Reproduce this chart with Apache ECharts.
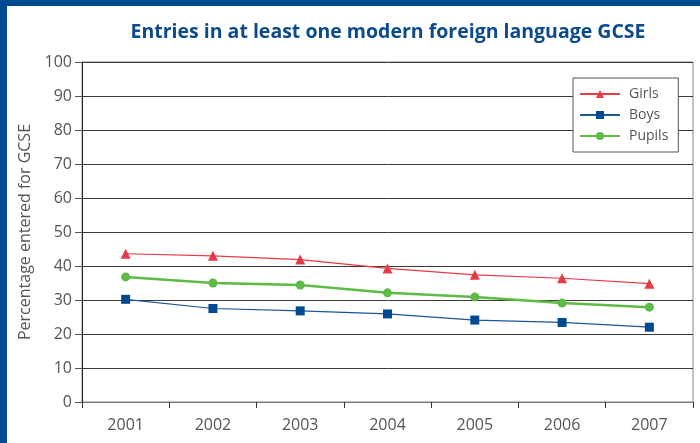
<!DOCTYPE html>
<html>
<head>
<meta charset="utf-8">
<script src="https://cdn.jsdelivr.net/npm/echarts@6/dist/echarts.min.js"></script>
<style>
html,body{margin:0;padding:0;background:#fff;}
#frame{position:absolute;left:0;top:0;width:700px;height:443px;box-sizing:border-box;border-top:6px solid #004a91;border-left:7px solid #004a91;}
#chart{position:absolute;left:0;top:0;width:700px;height:443px;}
</style>
</head>
<body>
<div id="frame"></div>
<div id="chart"></div>
<script>
var years = ['2001','2002','2003','2004','2005','2006','2007'];
var girls = [43.6, 43.0, 41.9, 39.3, 37.4, 36.4, 34.8];
var boys = [30.2, 27.5, 26.8, 25.9, 24.1, 23.4, 22.0];
var pupils = [36.8, 35.0, 34.4, 32.1, 30.9, 29.1, 27.9];
var yTicks = [0,10,20,30,40,50,60,70,80,90,100];

var chart = echarts.init(document.getElementById('chart'), null, {renderer:'canvas'});
var font = '"Open Sans", "Noto Sans", sans-serif';
chart.setOption({
  animation:false,
  backgroundColor:'transparent',
  title:{
    text:'Entries in at least one modern foreign language GCSE',
    left:383, top:17, textAlign:'center',
    textStyle:{color:'#0b4a8c', fontSize:19.5, fontWeight:'bold', fontFamily:'"Open Sans", sans-serif', letterSpacing:-0.5}
  },
  legend:{
    orient:'vertical', left:573, top:78,
    padding:[9,10,9,6], itemGap:7,
    itemWidth:40, itemHeight:10,
    borderColor:'#555', borderWidth:1, backgroundColor:'#fff',
    textStyle:{color:'#555', fontSize:14, fontFamily:font, padding:[0,0,0,4]},
    data:['Girls','Boys','Pupils']
  },
  grid:{left:82, right:7, top:62, bottom:41, show:true, borderColor:'#888', borderWidth:1, backgroundColor:'transparent'},
  xAxis:{
    type:'category', data:years, boundaryGap:true,
    axisLine:{lineStyle:{color:'#777', width:1}},
    axisTick:{show:true, length:6, lineStyle:{color:'#333'}},
    axisLabel:{color:'#555', fontSize:16, fontFamily:font, margin:15}
  },
  yAxis:{
    type:'value', min:0, max:100, interval:10,
    name:'Percentage entered for GCSE', nameLocation:'middle', nameGap:39,
    nameTextStyle:{color:'#555', fontSize:16, fontFamily:font},
    axisLine:{show:true, lineStyle:{color:'#222', width:1}},
    axisTick:{show:true, length:7, lineStyle:{color:'#555'}},
    axisLabel:{color:'#555', fontSize:16, fontFamily:font, margin:10,
      formatter:function(v){return yTicks.indexOf(v)>=0 ? String(v) : '';}},
    splitLine:{show:true, lineStyle:{color:'#3a3a3a', width:1}}
  },
  series:[
    {name:'Girls', type:'line', data:girls, symbol:'triangle', symbolSize:10,
      itemStyle:{color:'#e63a44'}, lineStyle:{color:'#e63a44', width:1.2}, z:3},
    {name:'Boys', type:'line', data:boys, symbol:'rect', symbolSize:9,
      itemStyle:{color:'#004a91'}, lineStyle:{color:'#1a5599', width:1.2}, z:3},
    {name:'Pupils', type:'line', data:pupils, symbol:'circle', symbolSize:9,
      itemStyle:{color:'#5dbb46'}, lineStyle:{color:'#5dbb46', width:2.5}, z:3}
  ]
});
</script>
</body>
</html>
